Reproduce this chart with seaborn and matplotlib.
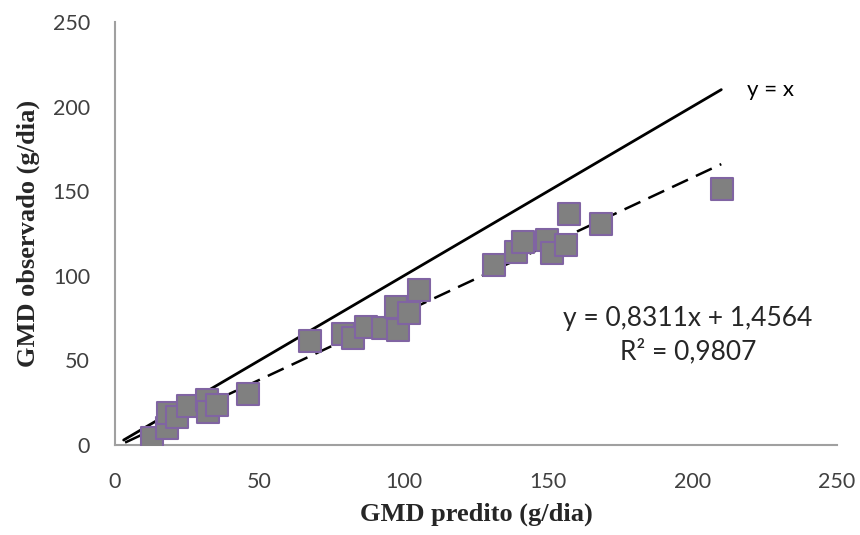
import pandas as pd
import matplotlib
matplotlib.use('Agg')
import matplotlib.pyplot as plt
import seaborn as sns

# valores (GMD predito x observado, g/dia)
gmd_predito = [12.8, 18.0, 18.3, 21.5, 25.3, 31.9, 32.2, 35.3, 46.0, 67.5,
               79.0, 82.4, 87.0, 93.0, 97.3, 98.0, 101.8, 105.3, 131.2, 138.9,
               141.3, 149.6, 151.3, 156.2, 157.2, 168.3, 210.2]
gmd_observado = [4.1, 10.0, 19.0, 16.5, 23.0, 26.6, 19.5, 23.6, 30.0, 61.5,
                 65.6, 63.0, 70.0, 69.0, 81.6, 68.0, 78.0, 91.6, 106.4, 114.0,
                 120.0, 121.0, 113.5, 118.2, 136.5, 130.6, 151.3]

# linha 1:1 e linha de tendência
linha_x = [3, 210]
linha_y = [3, 210]
tend_x = [3.5, 210]
tend_y = [1.5, 166]

df = pd.DataFrame({'predito': gmd_predito, 'observado': gmd_observado})

sns.set_style('white')
plt.rcParams['font.family'] = ['Lato', 'DejaVu Sans']

fig = plt.figure(figsize=(8.6, 5.35), dpi=100)
ax = fig.add_axes([0.1337, 0.168, 0.8393, 0.791])

sns.lineplot(x=linha_x, y=linha_y, color='black', linewidth=2, ax=ax)
sns.lineplot(x=tend_x, y=tend_y, color='black', linewidth=1.8, ax=ax,
             linestyle=(0, (7, 3.5)))
sns.scatterplot(x='predito', y='observado', data=df, marker='s', s=250,
                color='#808080', edgecolor='#8064A2', linewidth=1.5, ax=ax,
                zorder=3)

ax.set_xlim(0, 250)
ax.set_ylim(0, 250)
ax.set_xticks(range(0, 251, 50))
ax.set_yticks(range(0, 251, 50))
ax.tick_params(labelsize=15.5, colors='#404040', length=0)
ax.tick_params(axis='x', pad=19)
ax.tick_params(axis='y', pad=18)

for s in ['top', 'right']:
    ax.spines[s].set_visible(False)
for s in ['left', 'bottom']:
    ax.spines[s].set_color('#A0A0A0')
    ax.spines[s].set_linewidth(1.5)

serif = {'family': 'Liberation Serif', 'weight': 'bold', 'size': 19}
ax.set_xlabel('GMD predito (g/dia)', fontdict=serif, labelpad=8)
ax.set_ylabel('GMD observado (g/dia)', fontdict=serif, labelpad=9)

ax.text(219, 209.5, 'y = x', fontsize=16, color='black', va='center')
ax.text(198.5, 75, 'y = 0,8311x + 1,4564', fontsize=19, ha='center', va='center')
ax.text(198.5, 55.5, 'R² = 0,9807', fontsize=19, ha='center', va='center')

plt.savefig('out.png', dpi=100)
